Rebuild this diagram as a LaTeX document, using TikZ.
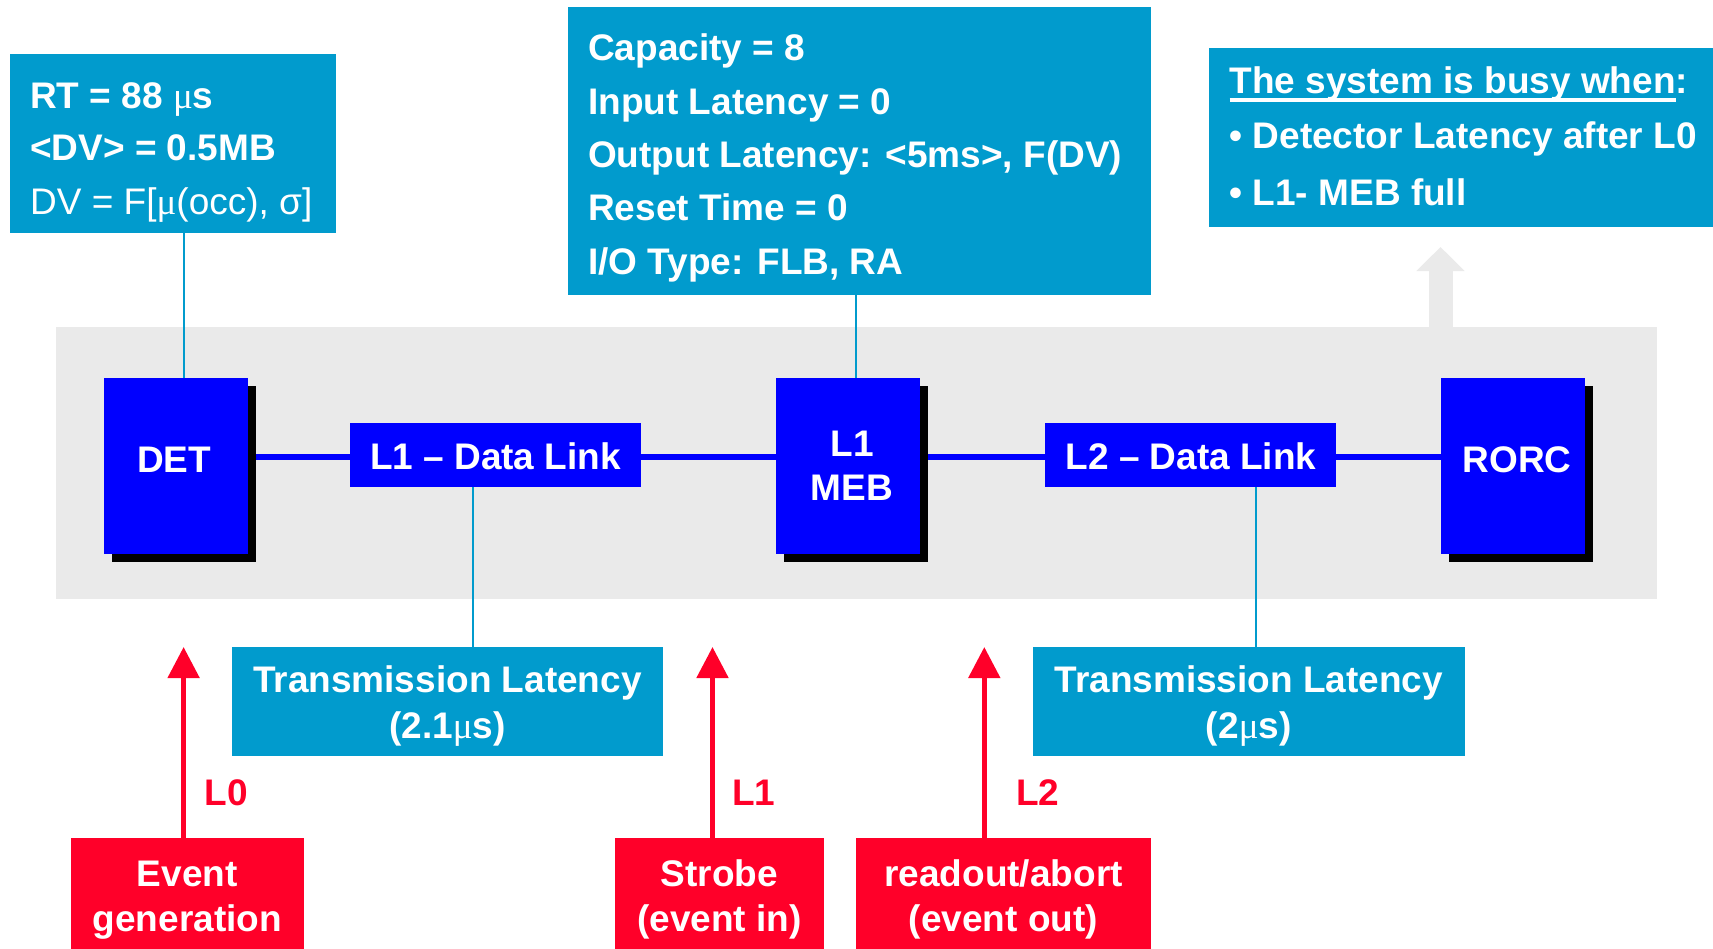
\documentclass[tikz,border=0pt]{standalone}
\usepackage{fontspec}
\setmainfont{Liberation Sans}
\newfontfamily\serifmu{Liberation Serif}
\usetikzlibrary{arrows.meta}
\definecolor{boxcyan}{RGB}{1,155,205}
\definecolor{boxblue}{RGB}{0,0,255}
\definecolor{boxred}{RGB}{255,0,41}
\definecolor{bandgray}{RGB}{234,234,234}
\newcommand\mymu{{\serifmu\mdseries μ}}
\newcommand\ulbox[1]{\setbox0\hbox{#1}\rlap{\rule[-8.5pt]{\wd0}{3.5pt}}\box0}
\pgfdeclarelayer{bandlayer}
\pgfdeclarelayer{linelayer}
\pgfsetlayers{bandlayer,linelayer,main}
\begin{document}
\begin{tikzpicture}[x=1pt,y=-1pt,
  boxbase/.style={draw=none, inner sep=0pt, outer sep=0pt, anchor=north west},
  cyanbox/.style={boxbase, fill=boxcyan},
  bluebox/.style={boxbase, fill=boxblue, preaction={fill=black, transform canvas={xshift=8pt,yshift=-8pt}}},
  linkbox/.style={boxbase, fill=boxblue},
  redbox/.style={boxbase, fill=boxred},
  bandbox/.style={boxbase, fill=bandgray},
  txt/.style={inner sep=0pt, font=\fontsize{37}{44}\selectfont\bfseries, text=white},
  rtxt/.style={txt, text=boxred},
  cyanline/.style={draw=boxcyan, line width=2pt},
  blueline/.style={draw=boxblue, line width=6pt},
  redarrow/.style={draw=boxred, line width=5pt, -{Triangle[width=31pt,length=31pt]}},
  grayarrow/.style={draw=bandgray, line width=24pt, -{Triangle[width=47pt,length=24pt]}}
]
\useasboundingbox (0,0) rectangle (1713,948);

% info boxes
\node[cyanbox, minimum width=325.7pt, minimum height=179.3pt] (info) at (10,54) {};
\node[cyanbox, minimum width=582.4pt, minimum height=288pt] (meminfo) at (568.4,6.7) {};
\node[cyanbox, minimum width=520pt, minimum height=179.3pt] (busy) at (1209,48) {};
\node[cyanbox, minimum width=431.2pt, minimum height=108.4pt] (tr1) at (231.8,647.3) {};
\node[cyanbox, minimum width=432.3pt, minimum height=108.4pt] (tr2) at (1032.7,647.3) {};

% band and busy arrow
\begin{pgfonlayer}{bandlayer}
\node[bandbox, minimum width=1601.3pt, minimum height=271.5pt] (band) at (55.7,327) {};
\coordinate (gx) at (1440.5,247);
\draw[grayarrow] ([yshift=-1pt]gx |- band.north) -- (gx);
\end{pgfonlayer}

% pipeline boxes
\node[bluebox, minimum width=144pt, minimum height=175.5pt] (det) at (104,378) {};
\node[linkbox, minimum width=291.1pt, minimum height=64pt] (l1dl) at (350.2,422.7) {};
\node[bluebox, minimum width=144.1pt, minimum height=175.5pt] (meb) at (776.2,378) {};
\node[linkbox, minimum width=290.7pt, minimum height=64pt] (l2dl) at (1045,422.7) {};
\node[bluebox, minimum width=143.8pt, minimum height=175.5pt] (rorc) at (1441,378) {};

% connectors
\begin{pgfonlayer}{linelayer}
\coordinate (yl) at (0,457);
\draw[blueline] (det.east |- yl) -- (l1dl.west |- yl);
\draw[blueline] (l1dl.east |- yl) -- (meb.west |- yl);
\draw[blueline] (meb.east |- yl) -- (l2dl.west |- yl);
\draw[blueline] (l2dl.east |- yl) -- (rorc.west |- yl);
\coordinate (c1) at (183.7,0);
\coordinate (c2) at (856,0);
\coordinate (c3) at (473,0);
\coordinate (c4) at (1256.3,0);
\draw[cyanline] (c1 |- info.south) -- (c1 |- det.north);
\draw[cyanline] (c2 |- meminfo.south) -- (c2 |- meb.north);
\draw[cyanline] (c3 |- l1dl.south) -- (c3 |- tr1.north);
\draw[cyanline] (c4 |- l2dl.south) -- (c4 |- tr2.north);
\end{pgfonlayer}

% trigger boxes
\node[redbox, minimum width=233.3pt, minimum height=120pt] (ev) at (70.7,838) {};
\node[redbox, minimum width=209pt, minimum height=120pt] (st) at (615,838) {};
\node[redbox, minimum width=294.3pt, minimum height=120pt] (ro) at (856.4,838) {};
\coordinate (a0) at (183.6,647);
\coordinate (a1) at (712.5,647);
\coordinate (a2) at (984.3,647);
\draw[redarrow] (a0 |- ev.north) -- (a0);
\draw[redarrow] (a1 |- st.north) -- (a1);
\draw[redarrow] (a2 |- ro.north) -- (a2);

% texts: info box
\node[txt, anchor=base west] at (30,108.3) {RT = 88 \mymu s};
\node[txt, anchor=base west] at (30,160) {<DV> = 0.5MB};
\node[txt, anchor=base west, font=\fontsize{37}{44}\selectfont\mdseries] at (30,214.5) {DV = F[\mymu(occ), σ]};

% memory info
\node[txt, anchor=base west] at (588,60.7) {Capacity = 8};
\node[txt, anchor=base west] at (588,114) {Input Latency = 0};
\node[txt, anchor=base west] at (588,167) {Output Latency: <5ms>, F(DV)};
\node[txt, anchor=base west] at (588,220) {Reset Time = 0};
\node[txt, anchor=base west] at (588,274) {I/O Type: FLB, RA};

% busy box
\node[txt, anchor=base west] at (1229.3,93.3) {\ulbox{The system is busy when}:};
\node[txt, anchor=base west] at (1229.3,148.3) {• Detector Latency after L0};
\node[txt, anchor=base west] at (1229.3,205.7) {• L1- MEB full};

% pipeline labels
\node[txt, anchor=base] at (174,472) {DET};
\node[txt, anchor=base] at (495.5,469.3) {L1 – Data Link};
\node[txt, anchor=base] at (852,456) {L1};
\node[txt, anchor=base] at (852,500.7) {MEB};
\node[txt, anchor=base] at (1191,469.3) {L2 – Data Link};
\node[txt, anchor=base] at (1517,472.5) {RORC};

% transmission
\node[txt, anchor=base] at (447.4,692.7) {Transmission Latency};
\node[txt, anchor=base] at (447.4,738.3) {(2.1\mymu s)};
\node[txt, anchor=base] at (1248.8,692.7) {Transmission Latency};
\node[txt, anchor=base] at (1248.8,738.3) {(2\mymu s)};

% trigger labels
\node[rtxt, anchor=base west] at (204.7,805.7) {L0};
\node[rtxt, anchor=base west] at (732,805.7) {L1};
\node[rtxt, anchor=base west] at (1016,805.7) {L2};

\node[txt, anchor=base] at (187.3,886) {Event};
\node[txt, anchor=base] at (187.3,931) {generation};
\node[txt, anchor=base] at (719.5,886) {Strobe};
\node[txt, anchor=base] at (719.5,931) {(event in)};
\node[txt, anchor=base] at (1003.5,886) {readout/abort};
\node[txt, anchor=base] at (1003.5,931) {(event out)};
\end{tikzpicture}
\end{document}
